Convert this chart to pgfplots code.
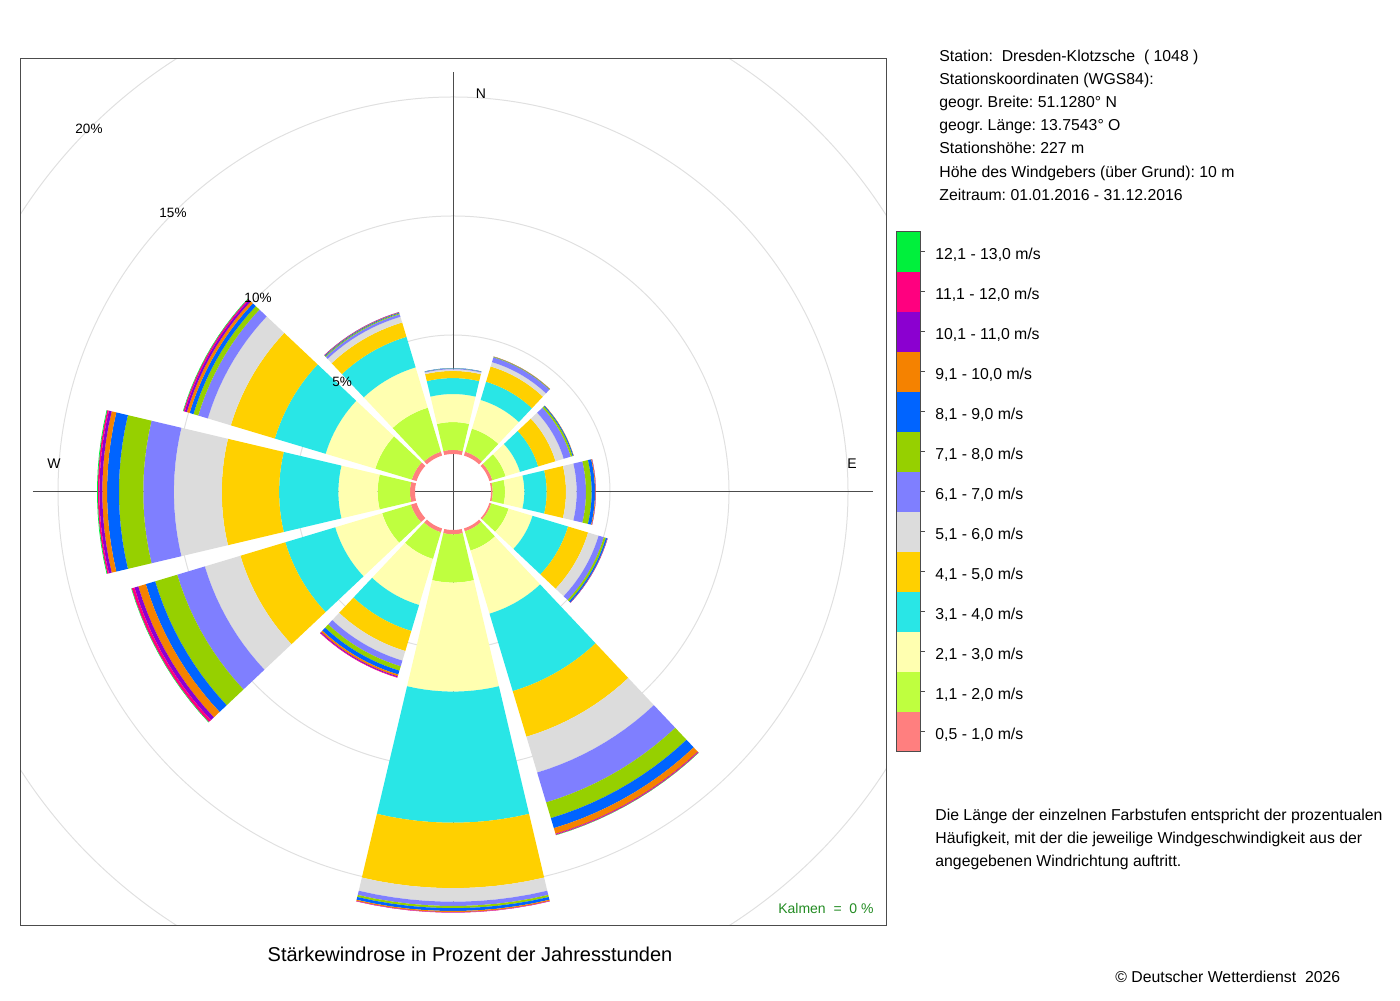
\documentclass[border=0pt]{standalone}
\usepackage{pgfplots}
\usepackage{pgfplotstable}
\pgfplotsset{compat=1.18}
\usepackage{fontspec}
\setmainfont{Liberation Sans}
\frenchspacing

\definecolor{wc1}{HTML}{FF7F7F}
\definecolor{wc2}{HTML}{BFFF3F}
\definecolor{wc3}{HTML}{FFFFB0}
\definecolor{wc4}{HTML}{29E6E6}
\definecolor{wc5}{HTML}{FFD000}
\definecolor{wc6}{HTML}{DCDCDC}
\definecolor{wc7}{HTML}{7F7FFF}
\definecolor{wc8}{HTML}{96D000}
\definecolor{wc9}{HTML}{0064FF}
\definecolor{wc10}{HTML}{F58200}
\definecolor{wc11}{HTML}{8B00D0}
\definecolor{wc12}{HTML}{FF007F}
\definecolor{wc13}{HTML}{00F03C}
\definecolor{kalmen}{HTML}{228B22}

% cumulative percentages (outer edge of each speed class), per direction
\pgfplotstableread{
dir c0 c1 c2 c3 c4 c5 c6 c7 c8 c9 c10 c11 c12 c13
0   0 0.17 1.34 2.52 3.19 3.49 3.56 3.59 3.60 3.61 3.61 3.61 3.61 3.61
30  0 0.17 1.18 2.44 3.24 3.91 4.10 4.31 4.33 4.34 4.35 4.35 4.35 4.35
60  0 0.13 0.71 1.34 2.14 2.90 3.26 3.57 3.65 3.69 3.70 3.70 3.70 3.70
90  0 0.07 0.59 1.40 2.34 3.15 3.60 3.99 4.23 4.37 4.40 4.41 4.41 4.41
120 0 0.08 0.84 1.89 3.45 4.33 4.79 5.02 5.11 5.17 5.18 5.19 5.19 5.19
150 0 0.13 0.97 3.74 7.14 9.14 10.71 12.02 12.71 13.15 13.40 13.42 13.45 13.46
180 0 0.18 2.21 6.79 12.30 15.05 15.62 15.80 15.89 16.01 16.06 16.07 16.08 16.08
210 0 0.17 1.34 3.36 4.50 5.38 5.80 6.05 6.24 6.41 6.49 6.53 6.55 6.55
240 0 0.25 1.51 3.57 5.76 7.73 9.29 10.50 11.47 11.88 12.21 12.38 12.50 12.52
270 0 0.21 1.57 3.22 5.71 8.12 10.13 11.42 12.44 12.94 13.14 13.26 13.33 13.36
300 0 0.21 1.81 3.99 6.22 8.15 9.16 9.58 9.79 9.96 10.08 10.17 10.23 10.25
330 0 0.17 2.10 3.87 5.21 5.84 6.09 6.20 6.24 6.27 6.29 6.30 6.30 6.30
}\windtable

\newcommand\Hole{1.597}
\newcommand\HW{13.3}

\begin{document}
\begin{tikzpicture}[font=\fontsize{7.9}{9.5}\selectfont]
\path[use as bounding box] (0,0) rectangle (700pt,500pt);
% grid circles (5, 10, 15, 20 %), clipped to the plot frame
\begin{scope}
\clip (10pt,37.5pt) rectangle (443pt,470.5pt);
\draw[black!12, line width=0.5pt] (226.5pt,254pt) circle[radius=78.5pt];
\draw[black!12, line width=0.5pt] (226.5pt,254pt) circle[radius=138pt];
\draw[black!12, line width=0.5pt] (226.5pt,254pt) circle[radius=197.5pt];
\draw[black!12, line width=0.5pt] (226.5pt,254pt) circle[radius=257pt];
\end{scope}
\begin{axis}[
  at={(10pt,37.5pt)}, anchor=south west,
  width=433pt, height=433pt, scale only axis,
  xmin=-18.193, xmax=18.193, ymin=-18.193, ymax=18.193,
  xtick=\empty, ytick=\empty,
  axis line style={black!70, line width=0.5pt},
]
\draw[black!70, line width=0.5pt] (axis cs:0,-17.65) -- (axis cs:0,17.65);
\draw[black!70, line width=0.5pt] (axis cs:-17.65,0) -- (axis cs:17.65,0);
\pgfplotsforeachungrouped \rr in {0,...,11}{%
  \edef\tmp{\noexpand\pgfplotstablegetelem{\rr}{dir}\noexpand\of\noexpand\windtable}\tmp
  \let\dir\pgfplotsretval
  \pgfplotsforeachungrouped \cc in {1,...,13}{%
    \pgfmathtruncatemacro\kin{\cc}%
    \pgfmathtruncatemacro\kout{\cc+1}%
    \edef\tmp{\noexpand\pgfplotstablegetelem{\rr}{[index]\kin}\noexpand\of\noexpand\windtable}\tmp
    \let\rin\pgfplotsretval
    \edef\tmp{\noexpand\pgfplotstablegetelem{\rr}{[index]\kout}\noexpand\of\noexpand\windtable}\tmp
    \let\rout\pgfplotsretval
    \ifdim\rin pt<\rout pt
      \edef\cmd{\noexpand\addplot[fill=wc\cc, draw=none, domain=0:23, samples=24]
        ({((x<11.5) ? (\Hole+\rout) : (\Hole+\rin))*sin((x<11.5) ? (\dir-\HW+x*2*\HW/11) : (\dir+\HW-(x-12)*2*\HW/11))},
         {((x<11.5) ? (\Hole+\rout) : (\Hole+\rin))*cos((x<11.5) ? (\dir-\HW+x*2*\HW/11) : (\dir+\HW-(x-12)*2*\HW/11))});}%
      \cmd
    \fi
  }%
}
\end{axis}

% compass and percent labels
\begin{scope}[every node/.style={inner sep=0pt}]
\node[font=\fontsize{7}{8}\selectfont] at (240.5pt,453pt) {N};
\node[font=\fontsize{7}{8}\selectfont] at (426pt,268pt) {E};
\node[font=\fontsize{7}{8}\selectfont] at (27pt,268pt) {W};
\node[font=\fontsize{6.75}{8}\selectfont] at (171pt,309pt) {5\%};
\node[font=\fontsize{6.75}{8}\selectfont] at (129pt,351pt) {10\%};
\node[font=\fontsize{6.75}{8}\selectfont] at (86.5pt,393.5pt) {15\%};
\node[font=\fontsize{6.75}{8}\selectfont] at (44.5pt,435.5pt) {20\%};
\node[anchor=base east, text=kalmen, font=\fontsize{7}{8}\selectfont] at (437pt,43.3pt) {Kalmen\ \ =\ \ 0 \%};

% station info
\node[anchor=base west] at (469.5pt,469.2pt) {Station:\ \ Dresden-Klotzsche\ \ ( 1048 )};
\node[anchor=base west] at (469.5pt,457.7pt) {Stationskoordinaten (WGS84):};
\node[anchor=base west] at (469.5pt,446.2pt) {geogr. Breite: 51.1280° N};
\node[anchor=base west] at (469.5pt,434.7pt) {geogr. Länge: 13.7543° O};
\node[anchor=base west] at (469.5pt,423.2pt) {Stationshöhe: 227 m};
\node[anchor=base west] at (469.5pt,411.2pt) {Höhe des Windgebers (über Grund): 10 m};
\node[anchor=base west] at (469.5pt,399.7pt) {Zeitraum: 01.01.2016 - 31.12.2016};

% legend
\foreach \j in {1,...,13}{
  \fill[wc\j] (448pt,{124pt+(\j-1)*20pt}) rectangle (460pt,{124pt+\j*20pt});
  \draw[black!70, line width=0.5pt] (460pt,{134pt+(\j-1)*20pt}) -- (462.5pt,{134pt+(\j-1)*20pt});
}
\draw[black!70, line width=0.5pt] (448pt,124pt) rectangle (460pt,384pt);
\node[anchor=base west] at (467.5pt,130.2pt) {0,5 - 1,0 m/s};
\node[anchor=base west] at (467.5pt,150.2pt) {1,1 - 2,0 m/s};
\node[anchor=base west] at (467.5pt,170.2pt) {2,1 - 3,0 m/s};
\node[anchor=base west] at (467.5pt,190.2pt) {3,1 - 4,0 m/s};
\node[anchor=base west] at (467.5pt,210.2pt) {4,1 - 5,0 m/s};
\node[anchor=base west] at (467.5pt,230.2pt) {5,1 - 6,0 m/s};
\node[anchor=base west] at (467.5pt,250.2pt) {6,1 - 7,0 m/s};
\node[anchor=base west] at (467.5pt,270.2pt) {7,1 - 8,0 m/s};
\node[anchor=base west] at (467.5pt,290.2pt) {8,1 - 9,0 m/s};
\node[anchor=base west] at (467.5pt,310.2pt) {9,1 - 10,0 m/s};
\node[anchor=base west] at (467.5pt,330.2pt) {10,1 - 11,0 m/s};
\node[anchor=base west] at (467.5pt,350.2pt) {11,1 - 12,0 m/s};
\node[anchor=base west] at (467.5pt,370.2pt) {12,1 - 13,0 m/s};

% note
\node[anchor=base west] at (467.5pt,89.8pt) {Die Länge der einzelnen Farbstufen entspricht der prozentualen};
\node[anchor=base west] at (467.5pt,78.3pt) {Häufigkeit, mit der die jeweilige Windgeschwindigkeit aus der};
\node[anchor=base west] at (467.5pt,66.8pt) {angegebenen Windrichtung auftritt.};

% title and copyright
\node[anchor=base, font=\fontsize{10}{12}\selectfont] at (235pt,19.2pt) {Stärkewindrose in Prozent der Jahresstunden};
\node[anchor=base west] at (557.5pt,9pt) {© Deutscher Wetterdienst\ \ 2026};
\end{scope}
\end{tikzpicture}
\end{document}
